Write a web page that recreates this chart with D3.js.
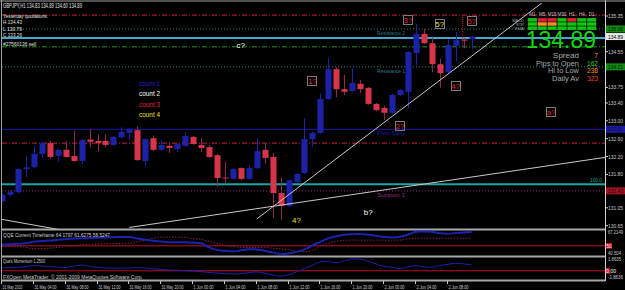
<!DOCTYPE html>
<html>
<head>
<meta charset="utf-8">
<script src="https://cdn.jsdelivr.net/npm/d3@7"></script>
<style>
html, body { margin: 0; padding: 0; background: #000; }
svg { display: block; font-family: "Liberation Sans", Arial, sans-serif; }
</style>
</head>
<body>
<div id="chart"></div>
<script>
// GBPJPY H1, bars from 31 May 2010 00:00
var barOpen  = [131.20,131.34,131.40,131.92,131.96,132.26,132.50,132.21,132.35,132.21,132.10,132.58,132.55,132.55,132.46,132.63,132.73,132.79,132.10,132.61,
                132.35,132.44,132.37,132.44,132.64,132.46,132.41,132.23,131.73,131.70,131.94,131.70,131.94,132.35,132.19,131.38,131.09,131.63,131.83,132.59,
                132.73,133.49,134.16,133.71,133.67,133.83,133.74,133.38,133.29,133.18,133.58,133.65,134.52,134.95,134.74,134.27,134.09,134.68,134.82,134.83];
var barHigh  = [131.38,131.44,131.94,132.21,132.42,132.53,132.55,132.37,132.55,132.77,132.59,132.82,132.70,132.70,132.66,132.86,132.84,132.88,132.61,132.67,
                132.57,132.53,132.50,132.75,132.66,132.61,132.46,132.26,132.08,131.94,131.96,132.01,132.61,132.50,132.28,131.72,131.69,131.83,133.06,132.76,
                133.62,134.41,134.20,134.03,134.18,133.92,133.76,133.40,133.34,133.60,133.71,134.56,135.18,135.06,134.86,134.39,134.83,134.99,134.86,134.89];
var barLow   = [131.16,131.30,131.38,131.74,131.94,132.17,132.15,132.08,132.17,132.08,132.03,132.41,132.32,132.41,132.44,132.61,132.57,132.10,131.99,132.32,
                132.33,132.28,132.30,132.42,132.46,132.30,132.17,131.52,131.61,131.68,131.67,131.68,131.92,132.05,130.82,130.78,131.07,131.61,131.81,132.41,
                132.71,133.47,133.53,133.58,133.65,133.62,133.36,133.22,133.02,133.16,133.56,133.29,134.25,134.72,134.09,133.74,134.07,134.34,134.63,134.60];
var barClose = [131.34,131.41,131.92,131.96,132.26,132.50,132.19,132.35,132.19,132.10,132.57,132.53,132.50,132.46,132.64,132.76,132.82,132.12,132.59,132.35,
                132.46,132.39,132.48,132.66,132.48,132.39,132.19,131.72,131.72,131.92,131.70,131.94,132.32,132.17,131.38,131.09,131.67,131.81,132.59,132.73,
                133.49,134.16,133.71,133.65,133.85,133.71,133.38,133.24,133.18,133.58,133.69,134.54,134.95,134.74,134.27,134.07,134.70,134.81,134.80,134.89];

var timeTickBars = [0,4,8,12,16,20,24,28,32,36,40,44,48,52,56];
var timeTickLabels = ["31 May 2010","31 May 04:00","31 May 08:00","31 May 12:00","31 May 16:00","31 May 20:00",
                      "1 Jun 00:00","1 Jun 04:00","1 Jun 08:00","1 Jun 12:00","1 Jun 16:00","1 Jun 20:00",
                      "2 Jun 00:00","2 Jun 04:00","2 Jun 08:00"];
var priceTicks = [135.35,134.95,134.55,134.15,133.75,133.40,133.00,132.60,132.20,131.80,131.40,131.05,130.65];

// horizontal lines on the main chart
var levelNames  = ["hiLine","res2","bidLevel","order","res1","pivot","midLine","fibo","sup1"];
var levelPrices = [135.37,135.06,134.86,134.66,134.21,132.81,132.50,131.58,131.43];
var levelTexts  = ["","Resistance 2","","","Resistance 1","Pivot Daily","","100.0","Support 1"];
var taggedLevels = ["res2","res1","pivot","sup1"];

// trend lines: [bar, price] anchor pairs
var trendFrom = [[32,130.80],[16,130.61],[0,130.79]];
var trendTo   = [[59,134.45],[59,131.74],[6,130.60]];

// wave count marks
var waveText  = ["1?","2?","3?","5?","5?","4?","a?","4?","b?","c?"];
var waveBar   = [39,50,51,55,59,57,69,37,46,30];
var wavePrice = [133.90,132.89,135.26,135.18,135.24,133.79,133.19,130.78,130.96,134.69];
var waveCount = [3,3,3,4,3,3,3,4,2,2];
var waveBoxed = [1,1,1,1,1,1,1,0,0,0];
var countNames = ["count 1","count 2","count 3","count 4"];

// QQE and momentum sub windows
var qqeMain = [51.3,51.9,52.5,53.1,55.0,55.9,56.6,57.5,58.3,59.0,59.5,59.8,60.0,60.4,60.8,61.1,61.0,59.0,57.5,56.3,
               55.3,54.6,54.5,54.4,54.0,53.1,48.1,45.0,43.8,42.9,44.4,45.8,45.6,43.8,41.9,39.6,40.6,42.5,45.6,50.6,
               55.0,59.4,61.9,63.8,64.4,64.6,63.8,62.5,61.0,60.5,61.3,63.8,67.5,67.9,67.5,65.6,65.0,65.9,66.5,67.1];
var qqeSignal = [49.1,49.1,49.1,48.1,46.3,46.6,47.1,48.1,49.1,50.5,51.3,51.8,52.1,52.5,52.8,53.0,53.3,55.0,57.1,59.4,
                 60.9,60.9,60.9,60.6,59.0,58.1,55.6,53.1,50.6,49.4,48.1,47.9,47.9,47.9,47.1,46.3,45.0,43.4,42.9,44.4,
                 49.4,53.1,55.6,56.9,57.1,57.1,57.1,57.1,57.1,57.1,57.1,58.8,59.6,59.6,59.6,59.6,59.6,59.6,59.6,59.6];
var momentum = [0.47,0.50,0.55,0.66,0.83,0.75,0.67,0.59,0.53,0.75,0.91,0.66,0.53,0.44,0.42,0.42,0.44,0.50,0.44,0.31,
                0.19,0.14,0.09,0.03,-0.03,-0.13,-0.25,-0.36,-0.44,-0.52,-0.44,-0.31,-0.16,-0.39,-0.63,-0.86,-0.63,-0.16,0.39,0.86,
                1.41,1.48,1.25,1.56,1.88,1.84,1.52,1.09,0.67,0.55,0.36,0.63,0.81,0.63,0.55,0.86,1.02,1.19,1.09,0.94];

// info block
var symbolTitle = "GBPJPY,H1  134.83 134.89 134.60 134.89";
var yesterdayLines = ["Yesterday quotations:","H 134.43","L 130.79","C 133.26"];
var orderLabel = "#27560136 sell";
var bidPrice = 134.89;
var infoNames  = ["Spread","Pips to Open","Hi to Low","Daily Av"];
var infoValues = [7,162,238,323];
var tfNames = ["M1","M5","M15","M30","H1","H4","D1"];
var sigRows = ["MACD","STR","EMA"];
var sigState = [[1,-1,-1,1,-1,1,1],
                [1,0,0,1,1,1,1],
                [1,1,1,1,1,1,1]];

var W = 625, H = 290;
var chL = 2, chR = 605, chT = 3, chB = 229;

var svg = d3.select("#chart").append("svg")
    .attr("width", W)
    .attr("height", H)
    .style("background", "#000");

var x = d3.scaleLinear().domain([0, 59]).range([2, 2 + 7.96 * 59]);
var y = d3.scaleLinear().domain([135.642, 130.575]).range([chT, chB]);

// small helper: text squeezed to a given width like the terminal font
function label(g, tx, ty, str, size, color, len) {
    var t = g.append("text")
        .attr("x", tx).attr("y", ty)
        .attr("font-size", size)
        .attr("fill", color)
        .text(str);
    if (len) t.attr("textLength", len).attr("lengthAdjust", "spacingAndGlyphs");
    return t;
}

svg.append("clipPath").attr("id", "mainClip")
    .append("rect").attr("x", chL).attr("y", chT).attr("width", chR - chL).attr("height", chB - chT);

var main = svg.append("g").attr("clip-path", "url(#mainClip)");

// level lines
var levelStyle = {
    hiLine:   {c: "#c8203c", w: 1, d: "5,2,1,2"},
    res2:     {c: "#2a7f86", w: 1, d: "1,2"},
    bidLevel: {c: "#44a8cc", w: 2, d: null},
    order:    {c: "#139a13", w: 1, d: "5,2,1,2"},
    res1:     {c: "#2a7f86", w: 1, d: "1,2"},
    pivot:    {c: "#1a1aa8", w: 1, d: null},
    midLine:  {c: "#c8203c", w: 1, d: "5,2,1,2"},
    fibo:     {c: "#1fa3a3", w: 2, d: null},
    sup1:     {c: "#8a2a7a", w: 1, d: "1,2"}
};
levelNames.forEach(function(n, i) {
    var s = levelStyle[n];
    main.append("line")
        .attr("x1", chL).attr("x2", chR)
        .attr("y1", y(levelPrices[i])).attr("y2", y(levelPrices[i]))
        .attr("stroke", s.c).attr("stroke-width", s.w)
        .attr("stroke-dasharray", s.d);
    if (levelTexts[i]) {
        if (n == "fibo") label(main, 590, y(levelPrices[i]) - 2, levelTexts[i], 5.5, s.c, 12);
        else label(main, 377, y(levelPrices[i]) + 6, levelTexts[i], 5.5, s.c, 28);
    }
});

// red dotted marker under the last 5?
main.append("line")
    .attr("x1", x(58) - 1).attr("x2", x(58) - 1)
    .attr("y1", y(135.37)).attr("y2", y(134.66))
    .attr("stroke", "#c8203c").attr("stroke-dasharray", "1,1");

// candles
var bars = d3.range(barOpen.length);
var candle = main.selectAll("g.candle")
    .data(bars)
    .enter().append("g")
    .classed("candle", true);

candle.append("line")
    .attr("x1", function(i) { return Math.round(x(i)) + 0.5; })
    .attr("x2", function(i) { return Math.round(x(i)) + 0.5; })
    .attr("y1", function(i) { return y(barHigh[i]); })
    .attr("y2", function(i) { return y(barLow[i]); })
    .attr("stroke", function(i) { return barClose[i] >= barOpen[i] ? "#1c22a8" : "#8a2a55"; });

candle.append("rect")
    .attr("x", function(i) { return Math.round(x(i)) - 2.5; })
    .attr("width", 6)
    .attr("y", function(i) { return y(Math.max(barOpen[i], barClose[i])); })
    .attr("height", function(i) { return Math.max(1, Math.abs(y(barOpen[i]) - y(barClose[i]))); })
    .attr("fill", function(i) { return barClose[i] >= barOpen[i] ? "#1c22a8" : "#d8344c"; });

// trend lines, extended to the right edge
trendFrom.forEach(function(a, i) {
    var b = trendTo[i];
    var slope = (b[1] - a[1]) / (b[0] - a[0]);
    var endBar = i == 2 ? 10 : 80;
    main.append("line")
        .attr("x1", x(a[0])).attr("y1", y(a[1]))
        .attr("x2", x(endBar)).attr("y2", y(a[1] + slope * (endBar - a[0])))
        .attr("stroke", "#c8c8c8").attr("stroke-width", 1);
});

// wave labels
var countColor = {1: "#2020c0", 2: "#ffffff", 3: "#e0203c", 4: "#e8e020"};
waveText.forEach(function(t, i) {
    var cx = x(waveBar[i]), cy = y(wavePrice[i]);
    if (waveBoxed[i]) {
        main.append("rect")
            .attr("x", Math.round(cx) - 4.5).attr("y", Math.round(cy) - 4.5)
            .attr("width", 9).attr("height", 9)
            .attr("fill", "none").attr("stroke", "#7a7a7a");
    }
    main.append("text")
        .attr("x", cx).attr("y", cy + 3)
        .attr("text-anchor", "middle")
        .attr("font-size", 8)
        .attr("fill", countColor[waveCount[i]])
        .text(t);
});

// count legend
countNames.forEach(function(t, i) {
    label(main, 139, 85.5 + i * 10.5, t, 7, countColor[i + 1], 21);
});

// top-left texts
label(svg, 3, 7.5, symbolTitle, 6.5, "#e0e0e0", 79);
label(svg, 3, 17.5, yesterdayLines[0], 6, "#e0e0e0", 45);
label(svg, 3, 24, yesterdayLines[1], 6, "#e0e0e0", 19);
label(svg, 3, 30.5, yesterdayLines[2], 6, "#e0e0e0", 19);
label(svg, 3, 37, yesterdayLines[3], 6, "#e0e0e0", 19);
label(svg, 3, 45.5, orderLabel, 6, "#e0e0e0", 33);

// signal matrix
var tfX = d3.scaleBand().domain(tfNames).range([527, 597]).padding(0.08);
var rowY = d3.scaleBand().domain(sigRows).range([17.5, 30.5]).padding(0.15);
var stateColor = {"1": "#12c412", "-1": "#e0203a", "0": "#f09020"};
tfNames.forEach(function(t) {
    svg.append("text").attr("x", tfX(t) + tfX.bandwidth() / 2).attr("y", 16)
        .attr("text-anchor", "middle").attr("font-size", 4.5).attr("fill", "#c0c0c0").text(t);
});
sigRows.forEach(function(r, ri) {
    svg.append("text").attr("x", 524).attr("y", rowY(r) + rowY.bandwidth())
        .attr("text-anchor", "end").attr("font-size", 4).attr("fill", "#a0a0a0").text(r);
    tfNames.forEach(function(t, ti) {
        svg.append("rect")
            .attr("x", tfX(t)).attr("y", rowY(r))
            .attr("width", tfX.bandwidth()).attr("height", rowY.bandwidth())
            .attr("fill", stateColor[sigState[ri][ti]]);
    });
});

svg.append("text")
    .attr("x", 596).attr("y", 47.5)
    .attr("text-anchor", "end")
    .attr("font-size", 23)
    .attr("fill", "#14d414")
    .text(bidPrice.toFixed(2));

var infoColor = ["#f09020", "#14d414", "#f09020", "#f04020"];
var infoWidth = [26, 43, 31, 27];
infoNames.forEach(function(n, i) {
    var by = 57.8 + i * 7.7;
    label(svg, 579 - infoWidth[i], by, n, 6.6, "#a8a8a8", infoWidth[i]);
    svg.append("text").attr("x", 598).attr("y", by).attr("text-anchor", "end")
        .attr("font-size", 6.6).attr("fill", infoColor[i]).text(infoValues[i]);
});

// price axis
svg.append("line").attr("x1", chR + 0.5).attr("x2", chR + 0.5).attr("y1", 0).attr("y2", 281)
    .attr("stroke", "#d0d0d0");
var tagPrices = levelNames.map(function(n, i) { return levelPrices[i]; })
    .filter(function(p, i) { return taggedLevels.indexOf(levelNames[i]) >= 0; });
tagPrices.push(bidPrice);
priceTicks.forEach(function(p) {
    svg.append("line").attr("x1", chR).attr("x2", chR + 3)
        .attr("y1", y(p)).attr("y2", y(p)).attr("stroke", "#d0d0d0");
    var hidden = tagPrices.some(function(t) { return Math.abs(y(t) - y(p)) < 4; });
    if (!hidden) label(svg, 608, y(p) + 2, p.toFixed(2), 5.5, "#c8c8c8", 15);
});
// coloured price tags of the pivot levels
var tagFill = {res2: "#128a12", res1: "#128a12", pivot: "#1a1aa8", sup1: "#a01020"};
levelNames.forEach(function(n, i) {
    if (taggedLevels.indexOf(n) < 0) return;
    svg.append("rect").attr("x", 606).attr("y", y(levelPrices[i]) - 3.5).attr("width", 19).attr("height", 7).attr("fill", tagFill[n]);
    label(svg, 608, y(levelPrices[i]) + 2, levelPrices[i].toFixed(2), 5.5, "#101010", 15);
});
svg.append("rect").attr("x", 606).attr("y", y(bidPrice) - 3.5).attr("width", 19).attr("height", 7).attr("fill", "#e8e8e8");
label(svg, 608, y(bidPrice) + 2, bidPrice.toFixed(2), 5.5, "#000", 15);

// frames
svg.append("line").attr("x1", 1.5).attr("x2", 1.5).attr("y1", 0).attr("y2", 281).attr("stroke", "#a0a0a0");
svg.append("line").attr("x1", 0).attr("x2", W).attr("y1", 1).attr("y2", 1).attr("stroke", "#a0a0a0");
[229.5, 256.5, 280.5].forEach(function(v) {
    svg.append("rect").attr("x", 2).attr("y", v - 1).attr("width", chR - 2).attr("height", 2).attr("fill", "#a8a8a8");
});

// QQE window
var qy = d3.scaleLinear().domain([40.5, 67.2]).range([253.5, 232]);
var qLine = d3.line().x(function(d, i) { return x(i); }).y(function(d) { return qy(d); }).curve(d3.curveMonotoneX);
svg.append("line").attr("x1", chL).attr("x2", chR).attr("y1", qy(50)).attr("y2", qy(50)).attr("stroke", "#c01020");
svg.append("path").datum(qqeSignal).attr("d", qLine).attr("fill", "none")
    .attr("stroke", "#8a2050").attr("stroke-dasharray", "1.5,1.5");
svg.append("path").datum(qqeMain).attr("d", qLine).attr("fill", "none")
    .attr("stroke", "#1c22b0").attr("stroke-width", 2);
label(svg, 3, 236.5, "QQE Current Timeframe 64.1797 61.6275 58.5247", 6, "#d0d0d0", 107);
label(svg, 608, qy(67.2149) + 2, "67.2149", 5, "#c8c8c8", 15);
label(svg, 608, qy(40.504) + 2, "40.504", 5, "#c8c8c8", 13);
svg.append("rect").attr("x", 606).attr("y", qy(50) - 3).attr("width", 6).attr("height", 6).attr("fill", "#c01020");
label(svg, 606.5, qy(50) + 2, "50", 5, "#fff", 5);

// momentum window
var my = d3.scaleLinear().domain([-1.45, 2.1]).range([280, 257.5]);
var mLine = d3.line().x(function(d, i) { return x(i); }).y(function(d) { return my(d); }).curve(d3.curveMonotoneX);
svg.append("line").attr("x1", chL).attr("x2", chR).attr("y1", my(0)).attr("y2", my(0)).attr("stroke", "#c01020");
svg.append("path").datum(momentum).attr("d", mLine).attr("fill", "none").attr("stroke", "#1c22b0");
label(svg, 3, 263, "Qua's Momentum  1.2500", 6, "#d0d0d0", 42);
label(svg, 3, 278.5, "FXOpen MetaTrader, \u00a9 2001-2009 MetaQuotes Software Corp.", 6, "#d0d0d0", 140);
label(svg, 608, my(1.8635) + 2, "1.8635", 5, "#c8c8c8", 13);
svg.append("rect").attr("x", 606).attr("y", my(0) - 3).attr("width", 4).attr("height", 6).attr("fill", "#c01020");
label(svg, 606, my(0) + 2, "0.00", 5, "#fff", 10);
label(svg, 608, 279, "-1.8636", 5, "#c8c8c8", 15);

// time axis
timeTickBars.forEach(function(b, i) {
    var tx = Math.round(x(b)) - 0.5;
    svg.append("line").attr("x1", tx).attr("x2", tx).attr("y1", 281).attr("y2", 284).attr("stroke", "#c8c8c8");
    label(svg, tx + 1, 288.5, timeTickLabels[i], 5.5, "#d0d0d0", timeTickLabels[i].length > 11 ? 22 : 20);
});
</script>
</body>
</html>
